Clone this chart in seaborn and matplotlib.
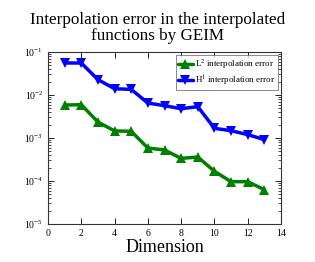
import matplotlib
matplotlib.use("Agg")
import matplotlib.pyplot as plt
import seaborn as sns
import pandas as pd
import numpy as np
from matplotlib.ticker import LogLocator

dims = [1, 2, 3, 4, 5, 6, 7, 8, 9, 10, 11, 12, 13]
l2_err = [0.00585, 0.00595, 0.00235, 0.00146, 0.00143, 0.000585, 0.000526,
          0.000336, 0.000361, 0.000168, 0.0000964, 0.0000964, 0.0000628]
h1_err = [0.0555, 0.0555, 0.0228, 0.0140, 0.0135, 0.0065, 0.00565,
          0.0048, 0.00536, 0.00168, 0.00148, 0.00120, 0.000915]
labels = [r"L$^2$ interpolation error", r"H$^1$ interpolation error"]

sns.set_style("ticks")
plt.rcParams['font.family'] = ['Liberation Serif', 'DejaVu Serif']
plt.rcParams['mathtext.fontset'] = 'stix'
plt.rcParams['text.color'] = 'black'
plt.rcParams['axes.labelcolor'] = 'black'
plt.rcParams['xtick.color'] = 'black'
plt.rcParams['ytick.color'] = 'black'

df = pd.concat([
    pd.DataFrame({"dim": dims, "err": l2_err, "kind": labels[0]}),
    pd.DataFrame({"dim": dims, "err": h1_err, "kind": labels[1]}),
])

fig = plt.figure(figsize=(3.15, 2.62), dpi=100)
ax = fig.add_axes([48/315, 1 - 224/262, 233/315, 172/262])

sns.lineplot(data=df, x="dim", y="err", hue="kind", style="kind",
             palette=["#008000", "#0000ff"], markers=["^", "v"], dashes=False,
             markersize=7, linewidth=2.5, markeredgewidth=0, ax=ax)

ax.set_yscale("log")
ax.set_xlim(0, 14)
ax.set_ylim(1e-5, 1e-1)
ax.set_xticks(range(0, 15, 2))
ax.yaxis.set_major_locator(LogLocator(base=10, numticks=10))
ax.yaxis.set_minor_locator(LogLocator(base=10, subs=np.arange(2, 10), numticks=10))
ax.tick_params(which="both", direction="in", top=True, right=True, labelsize=7,
               colors="black")
ax.tick_params(which="major", length=4, width=0.6)
ax.tick_params(which="minor", length=2, width=0.5)
for s in ax.spines.values():
    s.set_linewidth(0.8)
    s.set_color("#333333")

ax.set_xlabel("Dimension", fontsize=13, labelpad=1, color="black")
ax.set_ylabel("")
fig.suptitle("Interpolation error in the interpolated\nfunctions by GEIM",
             fontsize=12.3, y=0.955, linespacing=1.05, color="black")

leg = ax.legend(loc="upper right", fontsize=6.5, frameon=True, fancybox=False,
                handlelength=1.6, handletextpad=0.3, borderpad=0.3,
                labelspacing=0.3, borderaxespad=0.3)
leg.get_frame().set_edgecolor("#555555")
leg.get_frame().set_linewidth(0.6)
for t in leg.get_texts():
    t.set_color("black")

fig.savefig("out.png", dpi=100)
